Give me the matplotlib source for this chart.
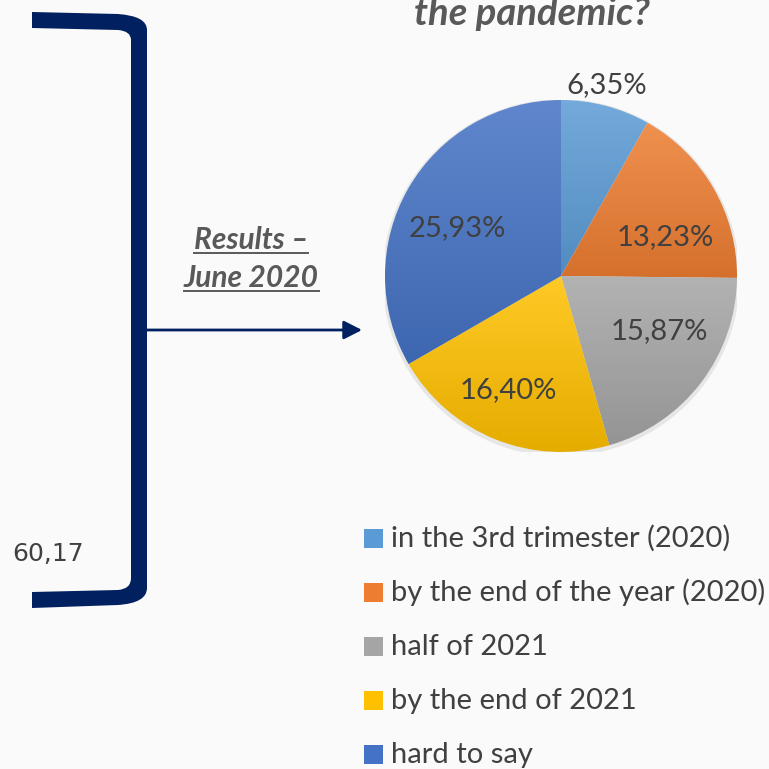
import numpy as np
import matplotlib
matplotlib.use("Agg")
import matplotlib.pyplot as plt
from matplotlib.path import Path
from matplotlib.patches import PathPatch, Rectangle, FancyArrowPatch, Circle
from matplotlib.colors import to_rgb

# data
categories = [
    "in the 3rd trimester (2020)",
    "by the end of the year (2020)",
    "half of 2021",
    "by the end of 2021",
    "hard to say",
]
shares = [6.35, 13.23, 15.87, 16.40, 25.93]
share_labels = ["6,35%", "13,23%", "15,87%", "16,40%", "25,93%"]
colors = ["#5B9BD5", "#ED7D31", "#A5A5A5", "#FFC000", "#4472C4"]
side_value = "60,17"
title_tail = "the pandemic?"
results_lines = ["Results \u2013", "June 2020"]

W = H = 769
BG = "#FAFAFA"
TXT = "#404040"
NAVY = "#002060"

plt.rcParams["font.family"] = ["Lato", "DejaVu Sans"]

fig = plt.figure(figsize=(W / 100, H / 100), dpi=100, facecolor=BG)

# pixel-space axes for the slide decorations
ax = fig.add_axes([0, 0, 1, 1], facecolor=BG)
ax.set_xlim(0, W)
ax.set_ylim(H, 0)
ax.axis("off")

# bracket
verts = [
    (32, 12), (118, 14), (147, 16), (147, 30), (147, 588), (147, 603), (118, 605),
    (32, 608), (32, 592), (118, 590), (131, 589), (131, 578), (131, 40),
    (131, 31), (118, 30), (32, 28), (32, 12),
]
codes = [
    Path.MOVETO, Path.LINETO, Path.CURVE3, Path.CURVE3, Path.LINETO, Path.CURVE3, Path.CURVE3,
    Path.LINETO, Path.LINETO, Path.LINETO, Path.CURVE3, Path.CURVE3, Path.LINETO,
    Path.CURVE3, Path.CURVE3, Path.LINETO, Path.CLOSEPOLY,
]
ax.add_patch(PathPatch(Path(verts, codes), facecolor=NAVY, edgecolor="none"))

ax.text(12, 561, side_value, fontsize=18, color=TXT, family="DejaVu Sans",
        ha="left", va="baseline")

# arrow
ax.add_patch(FancyArrowPatch((147, 330), (362, 330),
                             arrowstyle="-|>,head_length=0.55,head_width=0.28",
                             mutation_scale=20, color=NAVY, lw=2,
                             shrinkA=0, shrinkB=0))

# Results - June 2020 (bold italic, underlined)
res_texts = []
for line, yb in zip(results_lines, [249, 287]):
    t = ax.text(251, yb, line, fontsize=21.5, color="#595959", fontweight="bold",
                fontstyle="italic", ha="center", va="baseline")
    res_texts.append((t, yb))

# title (cut off at the top of the slide)
ax.text(532, 25, title_tail, fontsize=27.5, color="#595959", fontweight="bold",
        fontstyle="italic", ha="center", va="baseline")

# legend
row_y = [538, 592, 646, 700, 754]
for cat, col, ry in zip(categories, colors, row_y):
    ax.add_patch(Rectangle((364, ry - 9.5), 19, 19, facecolor=col, edgecolor="none"))
    ax.text(391, ry + 9, cat, fontsize=21, color=TXT, ha="left", va="baseline")

# pie
cx, cy, R = 561, 276, 176
pax = fig.add_axes([(cx - R) / W, 1 - (cy + R) / H, 2 * R / W, 2 * R / H])
pax.set_facecolor("none")
pax.add_patch(Circle((0, -0.01), 1.015, facecolor="#D9D9D9", edgecolor="none", alpha=0.6, zorder=0))
wedges, _ = pax.pie(shares, colors=colors, startangle=90, counterclock=False,
                    radius=1, wedgeprops=dict(linewidth=0))
pax.set_aspect("equal")
pax.axis("off")

# vertical gradient inside each slice
for w, col in zip(wedges, colors):
    base = np.array(to_rgb(col))
    top = base + (1 - base) * 0.15
    bot = base * 0.90
    ext = w.get_path().get_extents()
    f = np.linspace(0, 1, 64)[:, None]
    grad = (top[None, :] * (1 - f) + bot[None, :] * f)[:, None, :]
    im = pax.imshow(grad, extent=[ext.x0, ext.x1, ext.y0, ext.y1], origin="upper",
                    aspect="auto", zorder=2, interpolation="bilinear")
    im.set_clip_path(w)
    w.set_facecolor("none")
pax.set_xlim(-1, 1)
pax.set_ylim(-1, 1)

# slice labels ("best fit" placement: small angular shift + radial distance)
label_shift = [1.2, -9.4, 8.0, -2.8, 5.2]
label_dist = [1.115, 0.63, 0.64, 0.715, 0.65]
for w, lab, s, d in zip(wedges, share_labels, label_shift, label_dist):
    mid = np.deg2rad((w.theta1 + w.theta2) / 2 + s)
    pax.text(d * np.cos(mid), d * np.sin(mid), lab, fontsize=21, color=TXT,
             ha="center", va="center", zorder=5, clip_on=False)

# underline the results text
fig.canvas.draw()
inv = ax.transData.inverted()
renderer = fig.canvas.get_renderer()
for t, yb in res_texts:
    bb = t.get_window_extent(renderer)
    x0, _ = inv.transform((bb.x0, bb.y0))
    x1, _ = inv.transform((bb.x1, bb.y0))
    ax.plot([x0, x1], [yb + 4, yb + 4], color="#595959", lw=1.4)

fig.savefig("out.png", dpi=100, facecolor=BG)
